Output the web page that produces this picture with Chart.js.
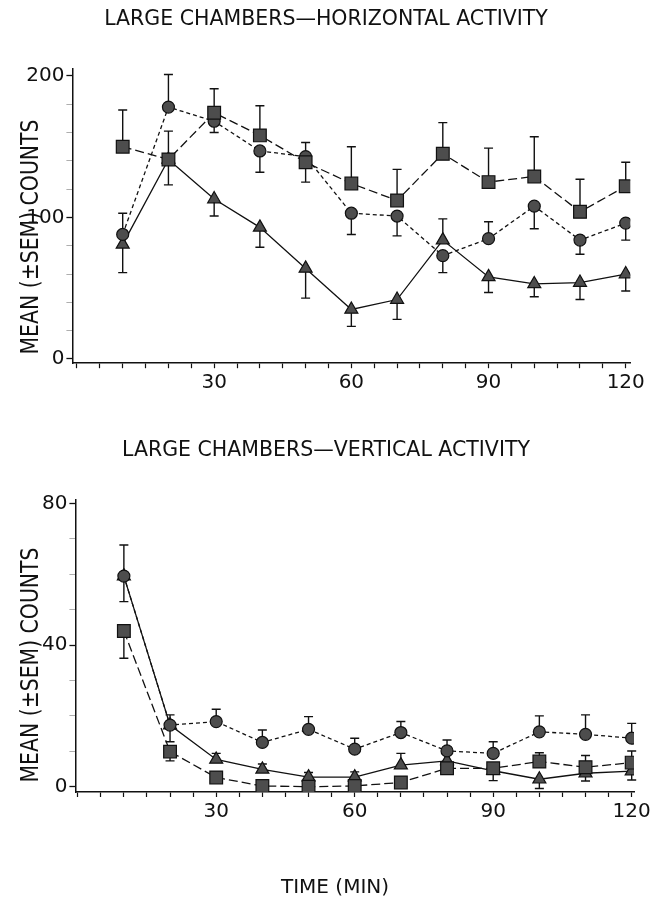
<!DOCTYPE html>
<html><head><meta charset="utf-8">
<script src="https://cdn.jsdelivr.net/npm/chart.js@4.4.0/dist/chart.umd.min.js"></script>
<style>
html,body{margin:0;padding:0;background:#fff;}
#wrap{position:relative;width:654px;height:898px;overflow:hidden;background:#fff}
canvas{position:absolute;left:0}
</style>
</head><body>
<div id="wrap">
<canvas id="topChart" width="654" height="430" style="top:0px"></canvas>
<canvas id="botChart" width="654" height="468" style="top:430px"></canvas>
</div>
<script>
// ---- data ----
const minutes = [10, 20, 30, 40, 50, 60, 70, 80, 90, 100, 110, 120];

// Horizontal activity
const hSquare      = [150, 141, 174, 158, 139, 124, 112, 145, 125, 129, 104, 122];
const hSquareErr   = [176, 161, 191, 179, 125, 150, 134, 167, 149, 157, 127, 139];
const hCircle      = [88, 178, 168, 147, 143, 103, 101, 73, 85, 108, 84, 96];
const hCircleErr   = [103, 201, 160, 132, 153, 88, 87, 61, 97, 92, 74, 84];
const hTriangle    = [81, 141, 113, 93, 64, 35, 42, 84, 58, 53, 54, 60];
const hTriangleErr = [61, 123, 101, 79, 43, 23, 28, 99, 47, 44, 42, 48];

// Vertical activity
const vSquare      = [44, 9.9, 2.6, 0.2, 0, 0.2, 1.2, 5.2, 5.2, 7.1, 5.5, 6.8];
const vSquareErr   = [36.3, 7.3, null, null, null, null, null, null, 1.7, 9.6, 8.8, 10.1];
const vCircle      = [59.5, 17.4, 18.4, 12.5, 16.2, 10.6, 15.3, 10.1, 9.4, 15.5, 14.8, 13.7];
const vCircleErr   = [68.3, 20.3, 21.9, 16, 19.8, 13.7, 18.4, 13.2, 12.7, 20, 20.3, 17.9];
const vTriangle    = [59.5, 17.4, 7.7, 4.9, 2.7, 2.7, 6.1, 7.3, 4.5, 2.1, 3.8, 4.4];
const vTriangleErr = [52.3, 12.7, 9.4, 6.4, 4, 4.2, 9.4, null, null, -0.5, 1.6, 1.9];

// ticks
const xTickValues = [0,5,10,15,20,25,30,35,40,45,50,55,60,65,70,75,80,85,90,95,100,105,110,115,120];
const xTickLabels = [30, 60, 90, 120];
const hYMajor = [0, 100, 200];
const hYMinor = [20, 40, 60, 80, 120, 140, 160, 180];
const vYMajor = [0, 40, 80];
const vYMinor = [10, 20, 30, 50, 60, 70];

const titleTop = 'LARGE CHAMBERS\u2014HORIZONTAL ACTIVITY';
const titleBot = 'LARGE CHAMBERS\u2014VERTICAL ACTIVITY';
const yTitle = 'MEAN (\u00B1SEM) COUNTS';
const xTitle = 'TIME (MIN)';

// ---- drawing ----
const FONT = 'DejaVu Sans';
const INK = '#111';
const FILL = '#4d4d4d';

const errorBars = {
  id: 'errorBars',
  beforeDatasetsDraw(chart) {
    const ctx = chart.ctx, ys = chart.scales.y;
    ctx.save();
    ctx.strokeStyle = INK;
    ctx.lineWidth = 1.4;
    ctx.setLineDash([]);
    chart.data.datasets.forEach((ds, i) => {
      const meta = chart.getDatasetMeta(i);
      (ds.errEnd || []).forEach((e, j) => {
        if (e === null || e === undefined) return;
        const p = meta.data[j];
        const y2 = ys.getPixelForValue(e);
        ctx.beginPath();
        ctx.moveTo(p.x, p.y); ctx.lineTo(p.x, y2);
        ctx.moveTo(p.x - 4.5, y2); ctx.lineTo(p.x + 4.5, y2);
        ctx.stroke();
      });
    });
    ctx.restore();
  }
};

const axisText = {
  id: 'axisText',
  afterDraw(chart, args, opts) {
    const ctx = chart.ctx;
    (opts.items || []).forEach(it => {
      ctx.save();
      ctx.translate(it.x, it.y);
      ctx.rotate(it.rot || 0);
      ctx.scale(it.sx || 1, 1);
      ctx.font = it.size + 'px "' + FONT + '"';
      ctx.fillStyle = INK;
      ctx.textAlign = 'center';
      ctx.textBaseline = 'middle';
      ctx.fillText(it.text, 0, 0);
      ctx.restore();
    });
  }
};

function pts(vals) { return minutes.map((m, i) => ({ x: m, y: vals[i] })); }

function ds(vals, err, style, radius, dash) {
  return {
    data: pts(vals), errEnd: err,
    borderColor: INK, borderWidth: 1.3, borderDash: dash,
    pointStyle: style, pointRadius: radius, pointHoverRadius: radius,
    pointBackgroundColor: FILL, pointBorderColor: INK, pointBorderWidth: 1.2,
    fill: false, tension: 0
  };
}

function makeChart(id, o) {
  const yAll = o.yMajor.concat(o.yMinor).sort((a, b) => a - b);
  return new Chart(document.getElementById(id), {
    type: 'line',
    data: {
      datasets: [
        ds(o.sq, o.sqErr, 'rect', 9, [9, 4]),
        ds(o.ci, o.ciErr, 'circle', 6, [4, 3]),
        ds(o.tr, o.trErr, 'triangle', 7.5, [])
      ]
    },
    plugins: [errorBars, axisText],
    options: {
      responsive: false, animation: false, devicePixelRatio: 1,
      layout: { padding: { left: 0, right: o.padRight, top: o.chartTop, bottom: o.padBottom } },
      plugins: {
        legend: { display: false },
        tooltip: { enabled: false },
        title: { display: false },
        axisText: { items: o.texts }
      },
      scales: {
        x: {
          type: 'linear', min: o.xMin, max: o.xMax,
          afterBuildTicks: s => { s.ticks = xTickValues.map(v => ({ value: v })); },
          afterFit: s => { s.height = 30; },
          ticks: {
            autoSkip: false, maxRotation: 0, color: INK, padding: 3,
            font: { family: FONT, size: 20 },
            callback: v => xTickLabels.includes(v) ? String(v) : ''
          },
          grid: { drawOnChartArea: false, drawTicks: true, tickLength: 5, tickColor: INK, tickWidth: 1.2 },
          border: { display: true, color: INK, width: 1.5 }
        },
        y: {
          type: 'linear', min: o.yMin, max: o.yMax,
          afterBuildTicks: s => { s.ticks = yAll.map(v => ({ value: v })); },
          afterFit: s => { s.width = o.yAxisRight; },
          ticks: {
            autoSkip: false, color: INK, padding: 2,
            font: { family: FONT, size: 20 },
            callback: v => o.yMajor.includes(v) ? String(v) : ''
          },
          grid: {
            drawOnChartArea: false, drawTicks: true, tickLength: 6,
            tickColor: c => (c.tick && o.yMajor.includes(c.tick.value)) ? INK : '#999',
            tickWidth: c => (c.tick && o.yMajor.includes(c.tick.value)) ? 1.3 : 0.8
          },
          border: { display: true, color: INK, width: 1.5 }
        }
      }
    }
  });
}

makeChart('topChart', {
  sq: hSquare, sqErr: hSquareErr, ci: hCircle, ciErr: hCircleErr, tr: hTriangle, trErr: hTriangleErr,
  yMajor: hYMajor, yMinor: hYMinor, yMin: -3, yMax: 205,
  xMin: -1, xMax: 121,
  chartTop: 68.9,
  yAxisRight: 72.4, padRight: 23.7, padBottom: 430 - 363.2 - 30,
  texts: [
    { text: titleTop, x: 326, y: 19.5, rot: 0, size: 20.5, sx: 1 },
    { text: yTitle, x: 32, y: 237, rot: -Math.PI / 2, size: 24, sx: 0.85 }
  ]
});

makeChart('botChart', {
  sq: vSquare, sqErr: vSquareErr, ci: vCircle, ciErr: vCircleErr, tr: vTriangle, trErr: vTriangleErr,
  yMajor: vYMajor, yMinor: vYMinor, yMin: -1.5, yMax: 81,
  xMin: -0.5, xMax: 120.5,
  chartTop: 70,
  yAxisRight: 75.4, padRight: 20, padBottom: 468 - 362 - 30,
  texts: [
    { text: titleBot, x: 326, y: 20.5, rot: 0, size: 20.5, sx: 1 },
    { text: yTitle, x: 32, y: 235, rot: -Math.PI / 2, size: 24, sx: 0.85 },
    { text: xTitle, x: 335, y: 458, rot: 0, size: 20, sx: 1 }
  ]
});
</script>
</body></html>
